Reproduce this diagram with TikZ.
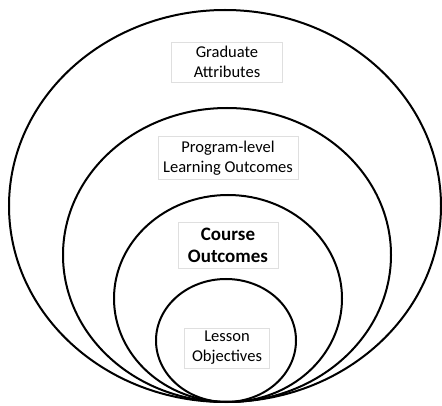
\documentclass[tikz,border=0pt]{standalone}
\usepackage{fontspec}
\setmainfont{Carlito}
\usetikzlibrary{positioning}

\begin{document}
\begin{tikzpicture}[x=1pt, y=-1pt,
    ring/.style={draw=black, line width=2pt},
    labelbox/.style={rectangle, draw=gray!25, fill=white, line width=0.8pt, align=center, inner sep=0pt, font=\fontsize{16.5}{20}\selectfont},
    mainbox/.style={labelbox, font=\fontsize{19}{22}\selectfont\bfseries}]

    % Canvas
    \useasboundingbox (0,0) rectangle (442,406);
    \clip (0,0) rectangle (442,406);

    % Nested rings, all resting on the same bottom point
    \draw[ring] (225,206) ellipse (216 and 196);
    \draw[ring] (227,255) ellipse (164 and 147);
    \draw[ring] (228,298.5) ellipse (114 and 103.5);
    \draw[ring] (226,340.5) ellipse (70 and 61.5);

    % Level labels
    \node[labelbox, minimum width=111, minimum height=40] (grad) at (227,62) {Graduate\\Attributes};
    \node[labelbox, minimum width=140, minimum height=43] (prog) at (228,158) {Program-level\\Learning Outcomes};
    \node[mainbox, minimum width=100, minimum height=46] (course) at (228,245) {Course\\Outcomes};
    \node[labelbox, minimum width=85, minimum height=40] (lesson) at (227,348) {Lesson\\Objectives};

\end{tikzpicture}
\end{document}
